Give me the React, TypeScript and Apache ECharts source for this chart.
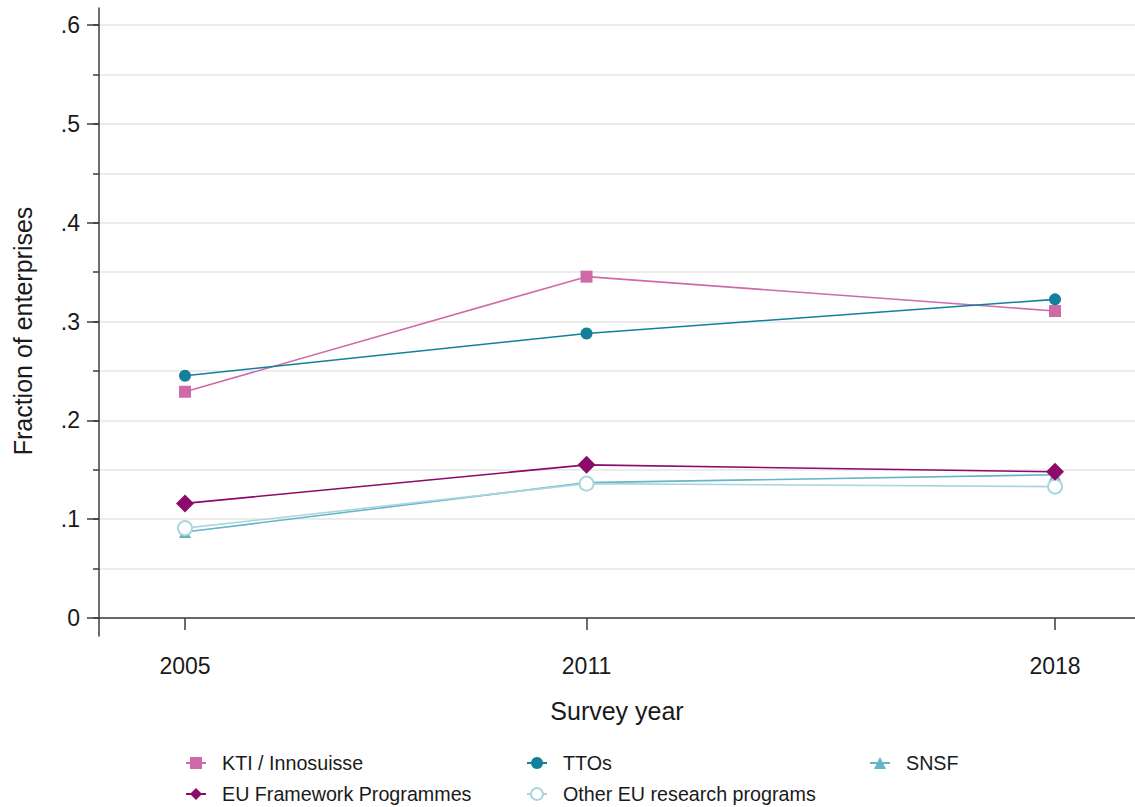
import React, { useEffect, useRef } from "react";
import * as echarts from "echarts";

const years = [2005, 2011, 2018];
const ktiValues = [0.229, 0.3455, 0.3107];
const ttoValues = [0.2452, 0.288, 0.3225];
const euFpValues = [0.116, 0.155, 0.148];
const snsfValues = [0.087, 0.137, 0.145];
const otherEuValues = [0.091, 0.136, 0.133];
const yLabelValues = [0, 0.1, 0.2, 0.3, 0.4, 0.5, 0.6];
const yMinorValues = [0.05, 0.15, 0.25, 0.35, 0.45, 0.55];

const FONT = "Liberation Sans, Arial, sans-serif";
const AXIS_COLOR = "#3c3c3c";
const TEXT_COLOR = "#1a1a1a";

const fmtY = (v: number) => {
  if (Math.abs(v) < 1e-9) return "0";
  return "." + Math.round(v * 10);
};

export default function App() {
  const ref = useRef<HTMLDivElement>(null);
  useEffect(() => {
    if (!ref.current) return;
    const chart = echarts.init(ref.current, null, { renderer: "svg" });
    const pts = (vals: number[]) => years.map((y, i) => [y, vals[i]]);
    const series: any[] = [
      {
        name: "KTI / Innosuisse",
        data: pts(ktiValues),
        color: "#cf6aa9",
        symbol: "rect",
        symbolSize: 12,
      },
      {
        name: "TTOs",
        data: pts(ttoValues),
        color: "#12809b",
        symbol: "circle",
        symbolSize: 12,
      },
      {
        name: "SNSF",
        data: pts(snsfValues),
        color: "#67b5c6",
        symbol: "triangle",
        symbolSize: 12,
      },
      {
        name: "Other EU research programs",
        data: pts(otherEuValues),
        color: "#a9d6e1",
        symbol: "emptyCircle",
        symbolSize: 14,
        itemStyle: { borderWidth: 1.5 },
      },
      {
        name: "EU Framework Programmes",
        data: pts(euFpValues),
        color: "#8c0a6a",
        symbol: "diamond",
        symbolSize: 18,
      },
    ].map((s) => ({
      type: "line",
      showSymbol: true,
      lineStyle: { width: 1.6, color: s.color },
      itemStyle: { color: s.color, ...(s.itemStyle || {}) },
      ...s,
      z: 3,
    }));

    const legendItem = (name: string, left: number, top: number) => ({
      show: true,
      orient: "horizontal",
      left,
      top,
      itemWidth: 20,
      itemHeight: 15,
      data: [name],
      textStyle: {
        fontFamily: FONT,
        fontSize: 19.7,
        color: TEXT_COLOR,
        lineHeight: 22,
        padding: [0, 0, 0, 11],
      },
    });

    chart.setOption({
      animation: false,
      backgroundColor: "#ffffff",
      grid: { left: 99, right: 0, top: 8, bottom: 171, containLabel: false },
      legend: [
        legendItem("KTI / Innosuisse", 180, 747),
        legendItem("EU Framework Programmes", 180, 778),
        legendItem("TTOs", 521, 747),
        legendItem("Other EU research programs", 521, 778),
        legendItem("SNSF", 864, 747),
      ],
      xAxis: {
        type: "value",
        min: 2003.715,
        max: 2019.195,
        name: "Survey year",
        nameLocation: "middle",
        nameGap: 62,
        nameTextStyle: { fontFamily: FONT, fontSize: 25, color: TEXT_COLOR },
        axisLine: { show: true, lineStyle: { color: AXIS_COLOR, width: 1.5 } },
        axisTick: {
          show: true,
          length: 12,
          customValues: years,
          lineStyle: { color: AXIS_COLOR, width: 1.5 },
        },
        axisLabel: {
          customValues: years,
          margin: 18,
          fontFamily: FONT,
          fontSize: 23,
          color: TEXT_COLOR,
          formatter: (v: number) => String(Math.round(v)),
        },
        splitLine: { show: false },
      },
      yAxis: [
        {
          type: "value",
          min: -0.0182,
          max: 0.6174,
          name: "Fraction of enterprises",
          nameLocation: "middle",
          nameGap: 64,
          nameTextStyle: {
            fontFamily: FONT,
            fontSize: 25,
            color: TEXT_COLOR,
            padding: [0, 18, 0, 0],
          },
          axisLine: { show: true, lineStyle: { color: AXIS_COLOR, width: 1.5 } },
          axisTick: {
            show: true,
            length: 6,
            customValues: [...yLabelValues, ...yMinorValues].sort((a, b) => a - b),
            lineStyle: { color: AXIS_COLOR, width: 1.5 },
          },
          axisLabel: {
            customValues: yLabelValues,
            margin: 19,
            fontFamily: FONT,
            fontSize: 23,
            color: TEXT_COLOR,
            formatter: fmtY,
          },
          splitLine: { show: true, lineStyle: { color: "#e6e6e6", width: 1.5 } },
        },
        {
          type: "value",
          min: -0.0182,
          max: 0.6174,
          position: "left",
          axisLine: { show: false },
          axisTick: {
            show: true,
            length: 12,
            customValues: yLabelValues,
            lineStyle: { color: AXIS_COLOR, width: 1.5 },
          },
          axisLabel: { show: false },
          splitLine: { show: false },
        },
      ],
      series,
    });
    return () => chart.dispose();
  }, []);
  return <div ref={ref} style={{ width: 1135, height: 807, position: "absolute", left: 0, top: 0 }} />;
}
